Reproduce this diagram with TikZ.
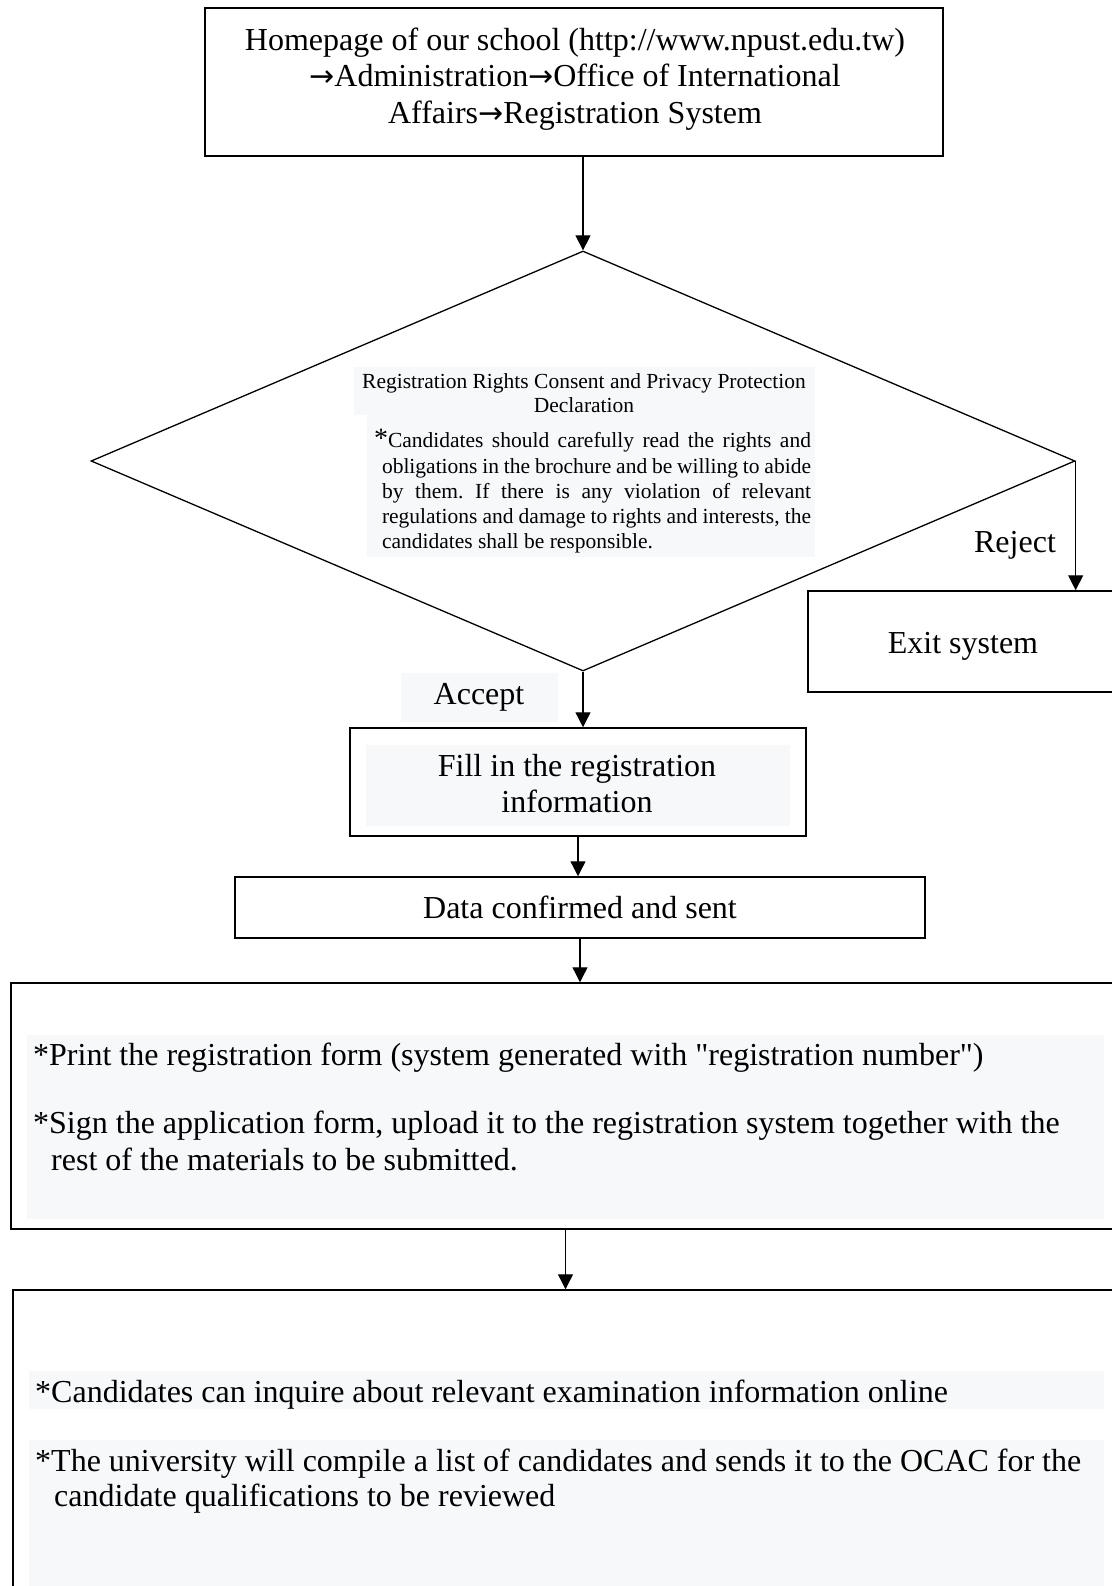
\documentclass[tikz,border=0pt]{standalone}
\usepackage{fontspec}
\setmainfont{Liberation Serif}[Ligatures=TeXOff]
\newfontfamily\arrowfont{DejaVu Sans}
\usetikzlibrary{arrows.meta,shapes.geometric}
\definecolor{graybg}{RGB}{247,248,250}
\newcommand{\rarr}{{\arrowfont\fontsize{30}{36.5}\selectfont →}}
\frenchspacing
\begin{document}
\begin{tikzpicture}[x=1pt,y=-1pt,
  box/.style={draw,line width=1.5pt,inner sep=0pt},
  arr/.style={line width=1.3pt,-{Triangle[length=15pt,width=15pt]}},
  big/.style={font=\fontsize{32}{36.5}\selectfont},
  small/.style={font=\fontsize{21.5}{23.5}\selectfont},
  band/.style={fill=graybg,draw=none,inner sep=0pt},
  txt/.style={big,anchor=base west,inner sep=0pt},
]
\useasboundingbox (0,0) rectangle (1111,1586);
% top box
\node[box,minimum width=738pt,minimum height=148pt] (top) at (574,82) {};
\node[big,align=center,inner sep=0pt] (toptext) at (575,79)
  {Homepage of our school (http://www.npust.edu.tw)\\\rarr Administration\rarr Office of International\\Affairs\rarr Registration System};
% diamond
\node[diamond,draw,line width=1.3pt,minimum width=984pt,minimum height=420pt,inner sep=0pt] (dia) at (583,461) {};
\draw[arr] (top.south -| dia.north) -- (dia.north);
\fill[graybg] (354,367) rectangle (815,415);
\fill[graybg] (367,415) rectangle (815,557);
\node[small,align=center,inner sep=0pt] (title) at (584,393)
  {Registration Rights Consent and Privacy Protection\\Declaration};
\node[font=\fontsize{21.5}{25.3}\selectfont,text width=429pt,align=justify,inner sep=0pt] (body) at (596.5,491.5)
  {\hspace*{-8pt}{\fontsize{28}{25}\selectfont*}Candidates should carefully read the rights and\linebreak
   obligations in the brochure and be willing to abide\linebreak
   by them. If there is any violation of relevant\linebreak
   regulations and damage to rights and interests, the\linebreak
   candidates shall be responsible.};
% reject branch
\node[box,minimum width=310pt,minimum height=101pt] (exit) at (963,641.5) {};
\node[big,inner sep=0pt] (exittext) at (963,646) {Exit system};
\draw[arr] (dia.east) -- (dia.east |- exit.north);
\node[big,inner sep=0pt] (rej) at (1015,545) {Reject};
% accept branch
\node[band,big,minimum width=157pt,minimum height=49pt] (acc) at (479,697) {Accept};
\node[box,minimum width=456pt,minimum height=108pt] (fill) at (578,782) {};
\fill[graybg] (366,745) rectangle (790,826);
\node[big,align=center,inner sep=0pt,font=\fontsize{32}{36}\selectfont] (filltext) at (577,784)
  {Fill in the registration\\information};
\draw[arr] (dia.south) -- (dia.south |- fill.north);
\node[box,big,minimum width=690pt,minimum height=61pt] (data) at (580,907.5) {Data confirmed and sent};
\draw[arr] (fill.south) -- (fill.south |- data.north);
% box 3
\node[box,minimum width=1109pt,minimum height=246pt] (b3) at (565.5,1106) {};
\draw[arr] (data.south) -- (data.south |- b3.north);
\fill[graybg] (27,1035) rectangle (1104,1219);
\node[txt] (p1) at (33,1065) {*Print the registration form (system generated with "registration number")};
\node[txt] (p2) at (33,1133) {*Sign the application form, upload it to the registration system together with the};
\node[txt] (p3) at (51,1170) {rest of the materials to be submitted.};
% box 4
\node[box,minimum width=1107pt,minimum height=310pt] (b4) at (566.5,1445) {};
\draw[arr] (b3.south) -- (b3.south |- b4.north);
\fill[graybg] (29,1371) rectangle (1104,1409);
\fill[graybg] (29,1440) rectangle (1104,1600);
\node[txt] (q1) at (35,1402) {*Candidates can inquire about relevant examination information online};
\node[txt] (q2) at (35,1471) {*The university will compile a list of candidates and sends it to the OCAC for the};
\node[txt] (q3) at (54,1506) {candidate qualifications to be reviewed};
\end{tikzpicture}
\end{document}
